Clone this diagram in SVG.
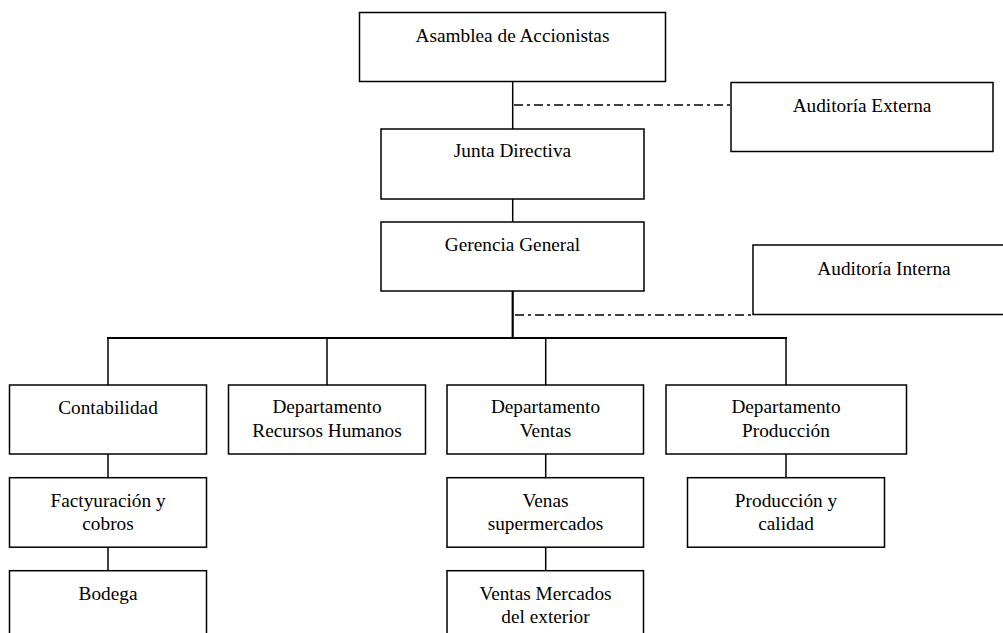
<svg xmlns="http://www.w3.org/2000/svg" width="1003" height="633" viewBox="0 0 1003 633">
<style>
.box{fill:#fff;stroke:#000;stroke-width:1.5}
.ln{stroke:#000;stroke-width:1.5;fill:none}
.thick{stroke:#000;stroke-width:2.2;fill:none}
.dd{stroke:#000;stroke-width:1.5;fill:none;stroke-dasharray:9 4 3 4}
text{font-family:"Liberation Serif","Times New Roman",serif;font-size:19.3px;fill:#000;text-anchor:middle}
</style>
<rect width="1003" height="633" fill="#fff"/>
<g id="connectors">
<line class="ln" x1="512.7" y1="82" x2="512.7" y2="129"/>
<line class="ln" x1="512.7" y1="199" x2="512.7" y2="222"/>
<line class="thick" x1="512.7" y1="291" x2="512.7" y2="338"/>
<line class="thick" x1="107" y1="338" x2="787" y2="338"/>
<line class="ln" x1="108" y1="338" x2="108" y2="385"/>
<line class="ln" x1="327" y1="338" x2="327" y2="385"/>
<line class="ln" x1="545.7" y1="338" x2="545.7" y2="385"/>
<line class="ln" x1="786" y1="338" x2="786" y2="385"/>
<line class="ln" x1="108" y1="454" x2="108" y2="477.7"/>
<line class="ln" x1="108" y1="547" x2="108" y2="570.7"/>
<line class="ln" x1="545.7" y1="454" x2="545.7" y2="477.7"/>
<line class="ln" x1="545.7" y1="547" x2="545.7" y2="570.7"/>
<line class="ln" x1="786" y1="454" x2="786" y2="477.7"/>
<line class="dd" x1="514" y1="105" x2="731" y2="105"/>
<line class="dd" x1="515" y1="315" x2="753" y2="315"/>
</g>
<g id="asamblea"><rect class="box" x="359.5" y="12.5" width="306" height="69"/><text x="512.5" y="42">Asamblea de Accionistas</text></g>
<g id="auditoria-externa"><rect class="box" x="731" y="82.5" width="262" height="69"/><text x="862" y="112">Auditoría Externa</text></g>
<g id="junta"><rect class="box" x="381" y="129" width="263" height="70"/><text x="512.5" y="157">Junta Directiva</text></g>
<g id="gerencia"><rect class="box" x="381" y="222" width="263" height="69"/><text x="512.5" y="251">Gerencia General</text></g>
<g id="auditoria-interna"><rect class="box" x="753" y="245" width="262" height="69.5"/><text x="884" y="275">Auditoría Interna</text></g>
<g id="contabilidad"><rect class="box" x="9.5" y="385" width="197" height="69"/><text x="108" y="414.3">Contabilidad</text></g>
<g id="rrhh"><rect class="box" x="228.5" y="385" width="197" height="69"/><text x="327" y="413.3">Departamento</text><text x="327" y="437.3">Recursos Humanos</text></g>
<g id="ventas"><rect class="box" x="447" y="385" width="196.5" height="69"/><text x="545.5" y="413.3">Departamento</text><text x="545.5" y="437.3">Ventas</text></g>
<g id="produccion"><rect class="box" x="666" y="385" width="240.5" height="69"/><text x="786" y="413.3">Departamento</text><text x="786" y="437.3">Producción</text></g>
<g id="facturacion"><rect class="box" x="9.5" y="477.7" width="197" height="69.5"/><text x="108" y="506.7">Factyuración y</text><text x="108" y="530">cobros</text></g>
<g id="venas"><rect class="box" x="447" y="477.7" width="196.5" height="69.5"/><text x="545.5" y="506.7">Venas</text><text x="545.5" y="530">supermercados</text></g>
<g id="produccion-calidad"><rect class="box" x="687.5" y="477.7" width="197" height="69.5"/><text x="786" y="506.7">Producción y</text><text x="786" y="530">calidad</text></g>
<g id="bodega"><rect class="box" x="9.5" y="570.7" width="197" height="70"/><text x="108" y="600">Bodega</text></g>
<g id="ventas-exterior"><rect class="box" x="447" y="570.7" width="196.5" height="70"/><text x="545.5" y="600">Ventas Mercados</text><text x="545.5" y="623.3">del exterior</text></g>
</svg>
